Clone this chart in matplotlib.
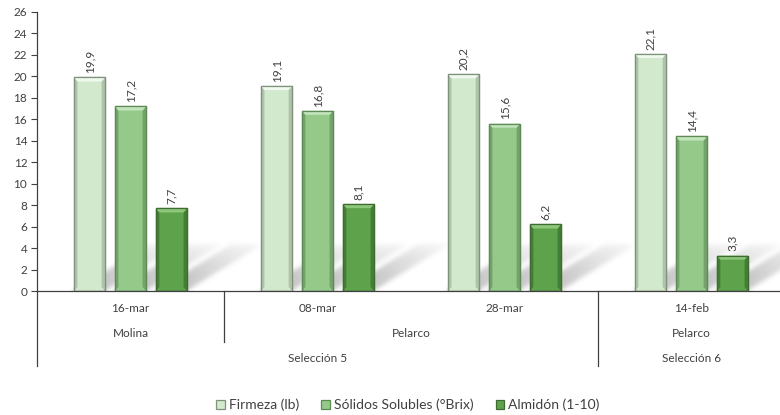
import matplotlib
matplotlib.use("Agg")
import matplotlib.pyplot as plt
import matplotlib.transforms as mtransforms
from matplotlib.patches import Polygon, Rectangle
import numpy as np

# --- data -------------------------------------------------------------
fechas = ["16-mar", "08-mar", "28-mar", "14-feb"]
localidades = ["Molina", "Pelarco", "Pelarco"]
localidad_span = [(0, 0), (1, 2), (3, 3)]
selecciones = ["Selección 5", "Selección 6"]
seleccion_span = [(0, 2), (3, 3)]

series = ["Firmeza (lb)", "Sólidos Solubles (°Brix)", "Almidón (1-10)"]
firmeza = [19.9, 19.1, 20.2, 22.1]
solidos = [17.2, 16.8, 15.6, 14.4]
almidon = [7.7, 8.1, 6.2, 3.3]
valores = [firmeza, solidos, almidon]

y_ticks = list(range(0, 27, 2))

# --- style ------------------------------------------------------------
face = ["#d2e9cd", "#94c98a", "#5ea24c"]
edge = ["#7e927b", "#5e8a56", "#3d6b31"]
dark = ["#aec3aa", "#74a26b", "#437e35"]
light = ["#f0f9ee", "#c2e4bb", "#8cc77a"]
txt = "#404040"
font = ["Lato", "DejaVu Sans"]
plt.rcParams["font.family"] = font

W, H, DPI = 780, 415, 100
fig = plt.figure(figsize=(W / DPI, H / DPI), dpi=DPI)
left_px, right_px, top_px, zero_px = 37, 785, 12, 291
ax = fig.add_axes([left_px / W, (H - zero_px) / H,
                   (right_px - left_px) / W, (zero_px - top_px) / H])

n_cat = len(fechas)
ax.set_xlim(-0.5, n_cat - 0.5)
ax.set_ylim(0, 26)

step, bw = 0.219, 0.166
offsets = [-step, 0.0, step]
x = np.arange(n_cat)

# soft perspective shadows on the floor behind each bar
sdx, sdy = 0.40, 4.3
ymax_sh = 7.0
nx = right_px - left_px
ny = int(round((zero_px - top_px) / 26 * ymax_sh))
gx = np.linspace(-0.5, n_cat - 0.5, nx)
gy = np.linspace(0, ymax_sh, ny)
GX, GY = np.meshgrid(gx, gy)
shade = np.zeros_like(GX)
for s in range(3):
    for i in range(n_cat):
        xl = x[i] + offsets[s] - bw / 2
        xr = xl + bw
        shift = sdx * GY / sdy
        inside = (GY <= sdy) & (GX >= xl + shift) & (GX <= xr + shift)
        # fade along the length and toward the far edge of each band
        across = np.clip((GX - xl - shift) / bw, 0, 1)
        val = np.where(inside, (1.0 - 0.85 * GY / sdy) * (1.0 - 0.35 * across), 0.0)
        shade = np.maximum(shade, val)


def blur(a, sigma):
    r = int(3 * sigma)
    k = np.exp(-0.5 * (np.arange(-r, r + 1) / sigma) ** 2)
    k /= k.sum()
    pad = np.pad(a, ((r, r), (r, r)), mode="edge")
    tmp = np.apply_along_axis(lambda m: np.convolve(m, k, mode="valid"), 1, pad)
    return np.apply_along_axis(lambda m: np.convolve(m, k, mode="valid"), 0, tmp)


shade = blur(shade, 2.2)
rgba = np.zeros((ny, nx, 4))
rgba[..., :3] = 0.5
rgba[..., 3] = np.clip(shade, 0, 1) * 0.65
ax.imshow(rgba, extent=(-0.5, n_cat - 0.5, 0, ymax_sh), origin="lower",
          aspect="auto", interpolation="bilinear", zorder=1)

# bevelled bars
bev_x = bw * 0.11
bev_y = 0.38
for s in range(3):
    bars = ax.bar(x + offsets[s], valores[s], width=bw, color=face[s],
                  edgecolor=edge[s], linewidth=0.9, zorder=3,
                  label=series[s])
    for rect, v in zip(bars, valores[s]):
        xl = rect.get_x()
        xr = xl + bw
        ax.add_patch(Polygon([(xl, 0), (xl + bev_x, bev_y), (xl + bev_x, v - bev_y), (xl, v)],
                             closed=True, facecolor=dark[s], edgecolor="none", zorder=4))
        ax.add_patch(Polygon([(xr, 0), (xr - bev_x, bev_y), (xr - bev_x, v - bev_y), (xr, v)],
                             closed=True, facecolor=dark[s], edgecolor="none", zorder=4))
        ax.add_patch(Polygon([(xl, v), (xl + bev_x, v - bev_y), (xr - bev_x, v - bev_y), (xr, v)],
                             closed=True, facecolor=light[s], edgecolor="none", zorder=4))
        ax.add_patch(Rectangle((xl, 0), bw, v, fill=False, edgecolor=edge[s],
                               linewidth=0.9, zorder=5))
        ax.annotate(f"{v:.1f}".replace(".", ","), (xl + bw / 2, v),
                    xytext=(0, 3), textcoords="offset points",
                    rotation=90, ha="center", va="bottom",
                    fontsize=8.5, color=txt, zorder=6)

# axes styling
for sp in ["top", "right", "left"]:
    ax.spines[sp].set_visible(False)
ax.spines["bottom"].set_color("#404040")
ax.spines["bottom"].set_linewidth(0.9)
ax.spines["bottom"].set_zorder(6)
ax.set_yticks(y_ticks)
ax.set_yticklabels([str(t) for t in y_ticks])
ax.tick_params(axis="y", length=4, width=0.8, color="#404040",
               labelsize=8.5, labelcolor=txt, pad=3)
ax.set_xticks([])
ax.plot([0, 0], [0, 1], transform=ax.transAxes, color="#404040",
        linewidth=0.9, clip_on=False, zorder=2)

# multi-level category axis
trans = mtransforms.blended_transform_factory(ax.transData, ax.transAxes)
ph = zero_px - top_px


def ay(px):
    return (zero_px - px) / ph


for i, f in enumerate(fechas):
    ax.text(i, ay(308), f, transform=trans, ha="center", va="center",
            fontsize=8.5, color=txt)
for name, (a, b) in zip(localidades, localidad_span):
    ax.text((a + b) / 2, ay(333), name, transform=trans, ha="center",
            va="center", fontsize=8.5, color=txt)
for name, (a, b) in zip(selecciones, seleccion_span):
    ax.text((a + b) / 2, ay(358), name, transform=trans, ha="center",
            va="center", fontsize=8.5, color=txt)

line_kw = dict(transform=trans, color="#404040", linewidth=0.9, clip_on=False)
# boundaries between localities (short) and selections (long)
for a, b in localidad_span[1:2]:
    ax.plot([a - 0.5, a - 0.5], [0, ay(342)], **line_kw)
for a, b in seleccion_span:
    ax.plot([a - 0.5, a - 0.5], [0, ay(366)], **line_kw)
ax.plot([n_cat - 0.5, n_cat - 0.5], [0, ay(366)], **line_kw)

# legend
leg = fig.legend(loc="center", bbox_to_anchor=(408 / W, (H - 405) / H),
                 ncol=3, frameon=False, fontsize=10, handlelength=0.6,
                 handleheight=0.6, handletextpad=0.3, columnspacing=1.6,
                 labelcolor=txt)

fig.savefig("out.png", dpi=DPI)
